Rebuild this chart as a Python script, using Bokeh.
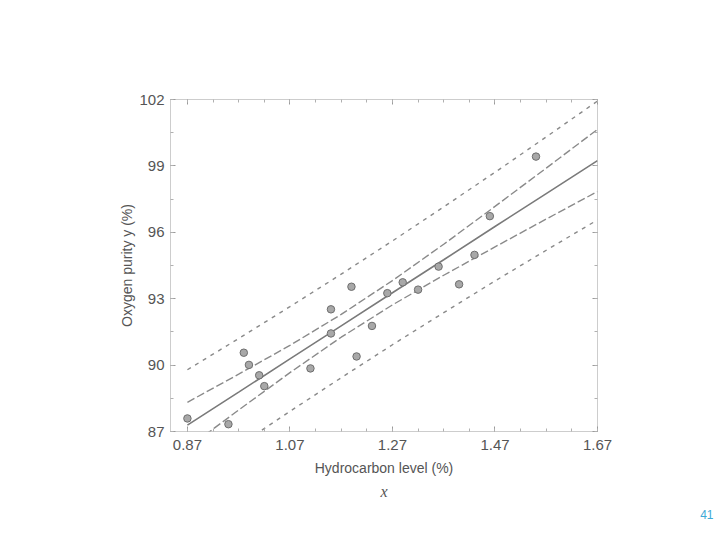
from bokeh.plotting import figure
from bokeh.models import Range1d, LinearAxis, FixedTicker, Title, CustomJSTickFormatter
from bokeh.embed import file_html
from bokeh.resources import INLINE

# Observed data (hydrocarbon level vs. oxygen purity)
hydrocarbon = [0.99, 1.02, 1.15, 1.29, 1.46, 1.36, 0.87, 1.23, 1.55, 1.40,
               1.19, 1.15, 0.98, 1.01, 1.11, 1.20, 1.26, 1.32, 1.43, 0.95]
purity = [90.01, 89.05, 91.43, 93.74, 96.73, 94.45, 87.59, 91.77, 99.42, 93.65,
          93.54, 92.52, 90.56, 89.54, 89.85, 90.39, 93.25, 93.41, 94.98, 87.33]

# Fitted line and 95% confidence / prediction bands
band_x = [0.87, 0.97, 1.07, 1.17, 1.27, 1.37, 1.47, 1.57, 1.67]
fit_y = [87.29, 88.78, 90.28, 91.77, 93.27, 94.76, 96.26, 97.75, 99.24]
ci_upper = [88.32, 89.59, 90.89, 92.29, 93.82, 95.46, 97.17, 98.90, 100.65]
ci_lower = [86.25, 87.97, 89.66, 91.26, 92.72, 94.06, 95.34, 96.60, 97.84]
pi_upper = [89.79, 91.20, 92.64, 94.11, 95.61, 97.15, 98.71, 100.31, 101.93]
pi_lower = [84.78, 86.36, 87.91, 89.43, 90.92, 92.37, 93.80, 95.19, 96.56]

x_ticks = [0.87, 1.07, 1.27, 1.47, 1.67]
x_tick_labels = ["0.87", "1.07", "1.27", "1.47", "1.67"]
y_ticks = [87, 90, 93, 96, 99, 102]
y_tick_labels = ["87", "90", "93", "96", "99", "102"]

X0, X1 = 0.837, 1.67
Y0, Y1 = 87, 102

FONT = "Liberation Sans"
TXT = "#555555"
GRAY = "#8a8a8a"

p = figure(width=716, height=524, x_range=Range1d(X0, X1), y_range=Range1d(Y0, Y1),
           output_backend="svg", toolbar_location=None,
           frame_width=427, frame_height=332,
           min_border_left=170, min_border_right=119, min_border_top=99, min_border_bottom=40)
p.grid.visible = False
p.background_fill_color = "white"
p.border_fill_color = "white"
p.outline_line_color = "#9a9a9a"
p.outline_line_dash = "1 1"
p.outline_line_width = 1

x_minor = [round(0.87 + 0.05 * i, 2) for i in range(17)]
y_minor = [87 + 1.5 * i for i in range(11)]
xt = FixedTicker(ticks=x_ticks, minor_ticks=x_minor)
yt = FixedTicker(ticks=y_ticks, minor_ticks=y_minor)


def style_axis(ax, labels=True):
    ax.axis_line_color = None
    ax.major_tick_in = 5
    ax.major_tick_out = 0
    ax.minor_tick_in = 3
    ax.minor_tick_out = 0
    ax.major_tick_line_color = "#9a9a9a"
    ax.minor_tick_line_color = "#b0b0b0"
    if labels:
        ax.major_label_text_font = FONT
        ax.major_label_text_font_size = "15px"
        ax.major_label_text_color = TXT
        ax.axis_label_text_font = FONT
        ax.axis_label_text_font_size = "14px"
        ax.axis_label_text_font_style = "normal"
        ax.axis_label_text_color = TXT
    else:
        ax.formatter = CustomJSTickFormatter(code="return ''")
        ax.major_label_standoff = 0


xa = p.xaxis[0]
xa.ticker = xt
xa.major_label_overrides = dict(zip(x_ticks, x_tick_labels))
xa.axis_label = "Hydrocarbon level (%)"
style_axis(xa)
xa.major_label_standoff = 8
xa.axis_label_standoff = 7

ya = p.yaxis[0]
ya.ticker = yt
ya.major_label_overrides = dict(zip(y_ticks, y_tick_labels))
ya.axis_label = "Oxygen purity y (%)"
style_axis(ya)
ya.major_label_standoff = 6
ya.axis_label_standoff = 1

top = LinearAxis(ticker=xt)
style_axis(top, labels=False)
p.add_layout(top, "above")
right = LinearAxis(ticker=yt)
style_axis(right, labels=False)
p.add_layout(right, "right")

# bands and fit
p.line(band_x, pi_upper, line_color=GRAY, line_width=1.4, line_dash="4 5")
p.line(band_x, pi_lower, line_color=GRAY, line_width=1.4, line_dash="4 5")
p.line(band_x, ci_upper, line_color=GRAY, line_width=1.4, line_dash="8 3")
p.line(band_x, ci_lower, line_color=GRAY, line_width=1.4, line_dash="8 3")
p.line(band_x, fit_y, line_color="#7a7a7a", line_width=1.6)

p.scatter(hydrocarbon, purity, size=7.5, fill_color="#a8a8a8", line_color="#6e6e6e", line_width=1)

# italic x under the axis title, then the page number
p.add_layout(Title(text="x", align="center", text_font="Liberation Serif",
                   text_font_style="italic", text_font_size="16px", text_color=TXT,
                   standoff=4), "below")
p.add_layout(Title(text="41", align="right", offset=-116, text_font=FONT,
                   text_font_style="normal", text_font_size="12px", text_color="#3fa9d6",
                   standoff=12), "below")

open("out.html", "w").write(file_html(p, INLINE))
